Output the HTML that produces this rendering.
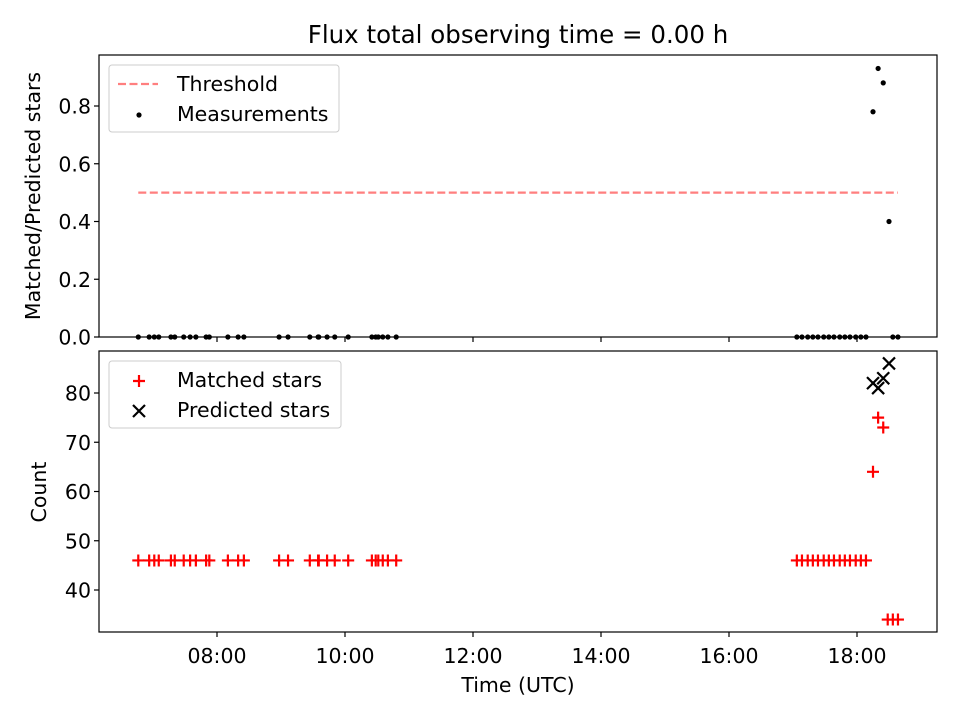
<!DOCTYPE html>
<html><head><meta charset="utf-8"><style>
body{margin:0;background:#fff;font-family:"Liberation Sans","DejaVu Sans",sans-serif}
svg text{font-family:"DejaVu Sans","Liberation Sans",sans-serif;font-size:20.5px;fill:#000}
</style></head><body>
<svg id="c" width="960" height="720">
<text x="518" y="43" text-anchor="middle" style="font-size:24.5px">Flux total observing time = 0.00 h</text>
</svg>
<script>
const earlyTimes=[6.77,6.94,7.02,7.09,7.28,7.34,7.48,7.58,7.67,7.83,7.88,8.17,8.33,8.42,8.97,9.11,9.45,9.58,9.59,9.72,9.84,10.05,10.42,10.48,10.52,10.59,10.67,10.80];
const lateTimes=[17.06,17.14,17.23,17.31,17.39,17.48,17.56,17.64,17.73,17.81,17.89,17.98,18.06,18.14];
const peakTimes=[18.25,18.33,18.41,18.50];
const peakMatched=[64,75,73];
const peakPredicted=[82,81,83,86];
const peakRatio=[0.78,0.93,0.88,0.40];
const tailTimes=[18.48,18.56,18.64];
const tailMatched=[34,34,34];
const tailRatio=[0,0];
const tailRatioTimes=[18.56,18.64];
const baseMatched=46;
const threshold=0.5;
const xTicks=[8,10,12,14,16,18];
const xTickLabels=["08:00","10:00","12:00","14:00","16:00","18:00"];
const topTicks=[0,0.2,0.4,0.6,0.8];
const botTicks=[40,50,60,70,80];

const svg=document.getElementById('c');
const NS='http://www.w3.org/2000/svg';
const L=99,R=937;
const sx=h=>217+(h-8)*64;
const syT=v=>337-v*288.75;
const syB=v=>590-(v-40)*4.925;
function mk(t,a,p){const e=document.createElementNS(NS,t);for(const k in a)e.setAttribute(k,a[k]);(p||svg).appendChild(e);return e;}
function txt(x,y,s,anc,extra){const e=mk('text',Object.assign({x:x,y:y,'text-anchor':anc||'middle'},extra||{}));e.textContent=s;return e;}

const fT=mk('rect',{x:L,y:55,width:R-L,height:282,fill:'none',stroke:'#000','stroke-width':1.2});


const fB=mk('rect',{x:L,y:351,width:R-L,height:281,fill:'none',stroke:'#000','stroke-width':1.2});



xTicks.forEach((h,i)=>{
  const x=sx(h);
  mk('line',{x1:x,x2:x,y1:337,y2:342,stroke:'#000','stroke-width':1.2});
  mk('line',{x1:x,x2:x,y1:632,y2:637,stroke:'#000','stroke-width':1.2});
  const t=txt(x,663,xTickLabels[i]);
  
  
});
topTicks.forEach(v=>{
  const y=syT(v);
  mk('line',{x1:L-5,x2:L,y1:y,y2:y,stroke:'#000','stroke-width':1.2});
  const t=txt(L-8,y+7.5,v.toFixed(1),'end');
  
  
});
botTicks.forEach(v=>{
  const y=syB(v);
  mk('line',{x1:L-5,x2:L,y1:y,y2:y,stroke:'#000','stroke-width':1.2});
  const t=txt(L-8,y+7.5,String(v),'end');
  
  
});
let t=txt(518,692,'Time (UTC)');


t=txt(0,0,'Matched/Predicted stars','middle',{transform:'translate(40,196) rotate(-90)'});


t=txt(0,0,'Count','middle',{transform:'translate(46,492) rotate(-90)'});



const allT=earlyTimes.concat(lateTimes,peakTimes,tailTimes);
const tmin=Math.min(...allT),tmax=Math.max(...allT);
const th=mk('line',{x1:sx(tmin),x2:sx(tmax),y1:syT(threshold),y2:syT(threshold),stroke:'#ff7f7f','stroke-width':2.2,'stroke-dasharray':'8,3.5'});



function dot(h,v){const e=mk('circle',{cx:sx(h),cy:syT(v),r:2.6,fill:'#000'});
  
  }
function plus(x,y,name){const g=mk('path',{d:`M${x-6} ${y}H${x+6}M${x} ${y-6}V${y+6}`,stroke:'#f00','stroke-width':2.2});
  
  }
function cross(x,y,name){const g=mk('path',{d:`M${x-6} ${y-6}L${x+6} ${y+6}M${x-6} ${y+6}L${x+6} ${y-6}`,stroke:'#000','stroke-width':2.2});
  
  }

earlyTimes.concat(lateTimes).forEach(h=>{dot(h,0);plus(sx(h),syB(baseMatched),'matched-star-point');});
peakRatio.forEach((v,i)=>dot(peakTimes[i],v));
tailRatio.forEach((v,i)=>dot(tailRatioTimes[i],v));
peakMatched.forEach((v,i)=>plus(sx(peakTimes[i]),syB(v),'matched-star-point'));
tailMatched.forEach((v,i)=>plus(sx(tailTimes[i]),syB(v),'matched-star-point'));
peakPredicted.forEach((v,i)=>cross(sx(peakTimes[i]),syB(v),'predicted-star-point'));

function box(x,y,w,h,name){const b=mk('rect',{x:x,y:y,width:w,height:h,rx:3,fill:'#fff','fill-opacity':0.8,stroke:'#ccc'});
  
  }
box(109,65,230,67,'top-legend');
mk('line',{x1:118,x2:158,y1:84,y2:84,stroke:'#ff7f7f','stroke-width':2.2,'stroke-dasharray':'8,3.5'});
t=txt(177,91,'Threshold','start');


mk('circle',{cx:139,cy:115,r:2.6,fill:'#000'});
t=txt(177,121,'Measurements','start');


box(109,361,232,67,'bottom-legend');
plus(139,381,'legend-matched-marker');
t=txt(177,387,'Matched stars','start');


cross(139,411,'legend-predicted-marker');
t=txt(177,417,'Predicted stars','start');


</script>
</body></html>
